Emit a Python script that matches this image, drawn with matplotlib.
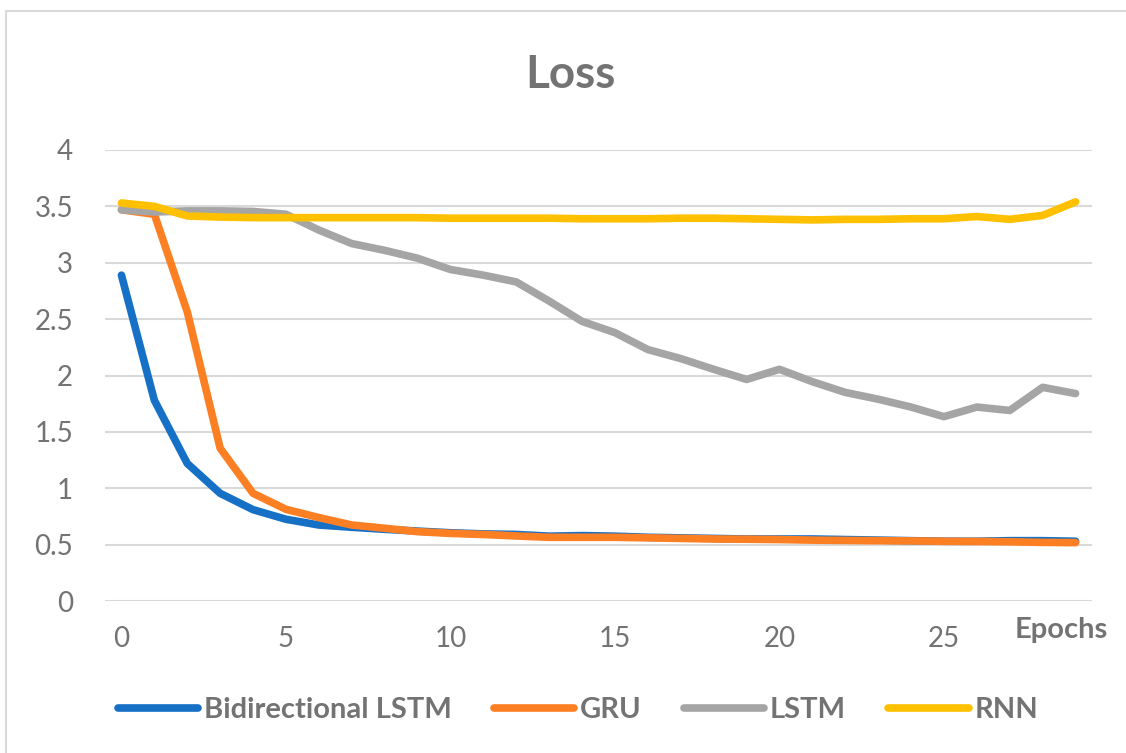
import matplotlib
matplotlib.use("Agg")
import matplotlib.pyplot as plt
from matplotlib.patches import Rectangle

plt.rcParams['font.family'] = ['Lato', 'DejaVu Sans']

epochs = list(range(30))
bi_lstm = [2.89, 1.78, 1.22, 0.955, 0.81, 0.725, 0.674, 0.654, 0.636, 0.62,
           0.605, 0.595, 0.59, 0.575, 0.58, 0.575, 0.565, 0.56, 0.555, 0.55,
           0.55, 0.55, 0.545, 0.54, 0.535, 0.53, 0.53, 0.535, 0.535, 0.53]
gru = [3.47, 3.43, 2.565, 1.355, 0.955, 0.813, 0.74, 0.674, 0.645, 0.615,
       0.60, 0.59, 0.577, 0.565, 0.565, 0.565, 0.56, 0.555, 0.55, 0.548,
       0.545, 0.54, 0.537, 0.535, 0.533, 0.53, 0.528, 0.525, 0.52, 0.518]
lstm = [3.47, 3.45, 3.46, 3.46, 3.455, 3.43, 3.29, 3.17, 3.11, 3.04,
        2.94, 2.89, 2.83, 2.66, 2.48, 2.38, 2.23, 2.15, 2.055, 1.965,
        2.055, 1.945, 1.85, 1.79, 1.72, 1.635, 1.72, 1.69, 1.895, 1.84]
rnn = [3.53, 3.50, 3.415, 3.405, 3.40, 3.40, 3.40, 3.40, 3.40, 3.40,
       3.395, 3.395, 3.395, 3.395, 3.39, 3.39, 3.39, 3.395, 3.395, 3.39,
       3.385, 3.38, 3.385, 3.385, 3.39, 3.39, 3.41, 3.385, 3.42, 3.54]

series_names = ["Bidirectional LSTM", "GRU", "LSTM", "RNN"]
series_values = [bi_lstm, gru, lstm, rnn]
colors = ["#1570C6", "#FD7F23", "#A5A5A5", "#FFC000"]
yticks = [0, 0.5, 1, 1.5, 2, 2.5, 3, 3.5, 4]
yticklabels = ["0", "0.5", "1", "1.5", "2", "2.5", "3", "3.5", "4"]
xticks = [0, 5, 10, 15, 20, 25]

W, H = 1126, 753
fig = plt.figure(figsize=(W / 100, H / 100), dpi=100)
fig.patch.set_facecolor("white")

# outer chart border
fig.patches.append(Rectangle((6 / W, -0.01), 1.2, (H - 11) / H + 0.01,
                             transform=fig.transFigure, fill=False,
                             edgecolor="#D9D9D9", linewidth=1.5))

ax = fig.add_axes([105 / W, 1 - 601 / H, (1092 - 105) / W, (601 - 150) / H])
text_color = "#737373"

for name, vals, c in zip(series_names, series_values, colors):
    ax.plot(epochs, vals, color=c, lw=5.5, label=name,
            solid_capstyle="round", solid_joinstyle="round")

ax.set_xlim(-0.5, 29.5)
ax.set_ylim(0, 4)
ax.set_yticks(yticks)
ax.set_yticklabels(yticklabels)
ax.set_xticks(xticks)
ax.grid(axis="y", color="#D9D9D9", lw=1.5)
ax.set_axisbelow(True)
for s in ax.spines.values():
    s.set_visible(False)
ax.tick_params(axis="both", length=0, labelsize=20, labelcolor=text_color)
ax.tick_params(axis="y", pad=23)
ax.tick_params(axis="x", pad=18)

fig.text(570 / W, 1 - 75 / H, "Loss", ha="center", va="center",
         fontsize=33, fontweight="bold", color=text_color)
fig.text(1108 / W, 1 - 630 / H, "Epochs", ha="right", va="center",
         fontsize=21, fontweight="bold", color=text_color)

leg = fig.legend(loc="center", bbox_to_anchor=(578 / W, 1 - 710 / H), ncol=4,
                 frameon=False, handlelength=2.75, handletextpad=0.2,
                 columnspacing=1.45, prop={"size": 21, "weight": "bold"})
for t in leg.get_texts():
    t.set_color(text_color)
for ln in leg.get_lines():
    ln.set_linewidth(5.5)

fig.savefig("out.png", dpi=100)
